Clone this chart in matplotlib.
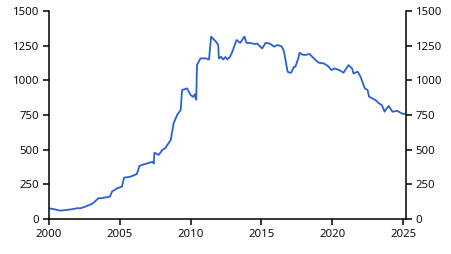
import matplotlib.pyplot as plt

plt.rcParams['font.family'] = ['Open Sans', 'DejaVu Sans']

# values (decimal year, level)
years = [2000.0, 2000.3, 2000.8, 2001.2, 2001.6, 2002.0, 2002.2, 2002.6, 2003.1, 2003.5,
         2003.7, 2004.3, 2004.45, 2004.8, 2005.15, 2005.3, 2005.75, 2006.2, 2006.4, 2006.9,
         2007.3, 2007.4, 2007.45, 2007.75, 2008.0, 2008.2, 2008.6, 2008.8, 2009.05, 2009.3,
         2009.4, 2009.75, 2010.0, 2010.2, 2010.3, 2010.4, 2010.45, 2010.7, 2011.1, 2011.3,
         2011.45, 2011.8, 2011.95, 2012.0, 2012.15, 2012.3, 2012.45, 2012.6, 2012.75, 2012.9,
         2013.25, 2013.5, 2013.8, 2013.95, 2014.3, 2014.5, 2014.7, 2015.05, 2015.3, 2015.6,
         2015.9, 2016.15, 2016.45, 2016.6, 2016.85, 2017.0, 2017.1, 2017.3, 2017.4, 2017.6,
         2017.7, 2017.9, 2018.1, 2018.4, 2018.7, 2019.05, 2019.4, 2019.7, 2019.95, 2020.15,
         2020.5, 2020.8, 2021.15, 2021.4, 2021.5, 2021.8, 2022.0, 2022.3, 2022.5, 2022.6,
         2023.05, 2023.3, 2023.5, 2023.7, 2023.85, 2024.0, 2024.25, 2024.6, 2024.9, 2025.1]
level = [77, 72, 60, 65, 70, 78, 77, 90, 113, 150,
         150, 161, 197, 221, 233, 298, 305, 324, 384, 400,
         412, 400, 478, 462, 498, 510, 570, 690, 750, 786,
         930, 942, 894, 880, 900, 860, 1110, 1158, 1158, 1150,
         1315, 1278, 1255, 1158, 1170, 1150, 1168, 1152, 1165, 1194,
         1291, 1270, 1315, 1270, 1268, 1262, 1265, 1230, 1270, 1265,
         1243, 1255, 1243, 1206, 1062, 1055, 1055, 1098, 1098, 1158,
         1199, 1185, 1183, 1190, 1158, 1127, 1122, 1103, 1074, 1086,
         1074, 1055, 1110, 1086, 1050, 1062, 1026, 942, 930, 882,
         858, 834, 822, 774, 798, 815, 774, 779, 762, 757]

yticks = [0, 250, 500, 750, 1000, 1250, 1500]
xticks = [2000, 2005, 2010, 2015, 2020, 2025]

fig = plt.figure(figsize=(4.51, 2.54), dpi=100)
ax = fig.add_axes([0.1086, 0.1378, 0.7916, 0.8189])
ax.plot(years, level, color='#2a5fd8', lw=1.3)

ax.set_xlim(2000, 2025.21)
ax.set_ylim(0, 1500)
ax.set_xticks(xticks)
ax.set_yticks(yticks)
ax.spines['top'].set_visible(False)
for s in ['left', 'right', 'bottom']:
    ax.spines[s].set_linewidth(1.1)
ax.tick_params(axis='y', which='both', left=True, right=True, labelleft=True, labelright=True,
               direction='out', length=4, width=1.1, labelsize=8.2, pad=3)
ax.tick_params(axis='x', direction='out', length=4, width=1.1, labelsize=8.2, pad=3)

fig.savefig('out.png', dpi=100)
